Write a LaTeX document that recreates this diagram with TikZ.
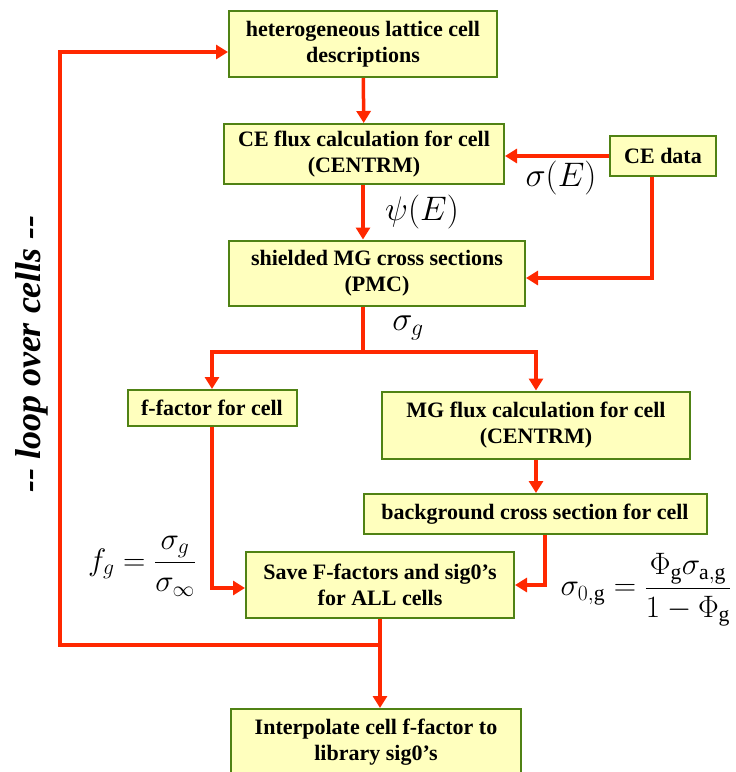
\RequirePackage{fix-cm}
\documentclass[tikz,border=0pt]{standalone}
\usepackage{fontspec}
\setmainfont{Liberation Serif}
\usepackage{tikz}
\usetikzlibrary{arrows.meta}

\definecolor{boxfill}{RGB}{255,255,190}
\definecolor{boxline}{RGB}{80,130,20}
\definecolor{flow}{RGB}{255,40,0}

\tikzset{
  cellbox/.style={draw=boxline, line width=2pt, fill=boxfill, align=center,
                  font=\bfseries\fontsize{22}{26}\selectfont, inner sep=0pt},
  flowline/.style={draw=flow, line width=3.5pt},
  flowarrow/.style={flowline, -{Triangle[length=12pt,width=14pt]}},
  mathlabel/.style={font=\fontsize{34}{36}\selectfont}
}

\begin{document}
\begin{tikzpicture}[x=1pt, y=-1pt]
  \useasboundingbox (0,0) rectangle (736,772);

  \node[cellbox, minimum width=268pt, minimum height=66pt] (hetero) at (363,44) {heterogeneous lattice cell\\descriptions};
  \node[cellbox, minimum width=280pt, minimum height=60pt] (ceflux) at (364,154) {CE flux calculation for cell\\(CENTRM)};
  \node[cellbox, minimum width=106pt, minimum height=40pt] (cedata) at (663,156) {CE data};
  \node[cellbox, minimum width=296pt, minimum height=65pt] (shield) at (377,273) {shielded MG cross sections\\(PMC)};
  \node[cellbox, minimum width=169pt, minimum height=36pt] (ffac) at (212,408) {f-factor for cell};
  \node[cellbox, minimum width=308pt, minimum height=67pt] (mgflux) at (536,425) {MG flux calculation for cell\\(CENTRM)};
  \node[cellbox, minimum width=343pt, minimum height=40pt] (backgr) at (535,514) {background cross section for cell};
  \node[cellbox, minimum width=268pt, minimum height=66pt] (save) at (380,585) {Save F-factors and sig0’s\\for ALL cells};
  \node[cellbox, minimum width=290pt, minimum height=86pt, text depth=24pt] (interp) at (376,752) {Interpolate cell f-factor to\\library sig0’s};

  % labels
  \node[mathlabel] (sigE) at (561,178) {$\sigma(E)$};
  \node[mathlabel] (psiE) at (422,212) {$\psi(E)$};
  \node[mathlabel] (sigg) at (408,328) {$\sigma_g$};
  \node[mathlabel, font=\fontsize{31}{34}\selectfont] (fg) at (142,566) {$\displaystyle f_g=\frac{\sigma_g}{\sigma_\infty}$};
  \node[mathlabel, font=\fontsize{31}{34}\selectfont] (sig0) at (646,590) {$\displaystyle \sigma_{0,\mathrm{g}}=\frac{\Phi_{\mathrm{g}}\sigma_{\mathrm{a,g}}}{1-\Phi_{\mathrm{g}}}$};
  \node[rotate=90, font=\bfseries\itshape\fontsize{36}{38}\selectfont] (loop) at (32,354) {-{}- loop over cells -{}-};

  \coordinate (split) at (363,352);
  \coordinate (back) at (380,645);

  \draw[flowarrow] (hetero) -- (ceflux);
  \draw[flowarrow] (cedata.west) -- (ceflux.east |- cedata.west);
  \draw[flowarrow] (ceflux.south -| 363,0) -- (shield.north -| 363,0);
  \draw[flowarrow] (cedata.south -| 652,0) |- (shield.east |- 0,278);
  \draw[flowline] (shield.south -| split) -- (split);
  \draw[flowarrow] (split) -| (ffac.north);
  \draw[flowarrow] (split) -| (mgflux.north);
  \draw[flowarrow] (ffac.south) |- (save.west |- 0,588);
  \draw[flowarrow] (mgflux.south) -- (backgr.north -| mgflux.south);
  \draw[flowarrow] (backgr.south -| 545,0) |- (save.east);
  \draw[flowarrow] (save.south -| back) -- (interp.north -| back);
  \draw[flowarrow] (back) -| (60,52) -- (hetero.west |- 0,52);
\end{tikzpicture}
\end{document}
